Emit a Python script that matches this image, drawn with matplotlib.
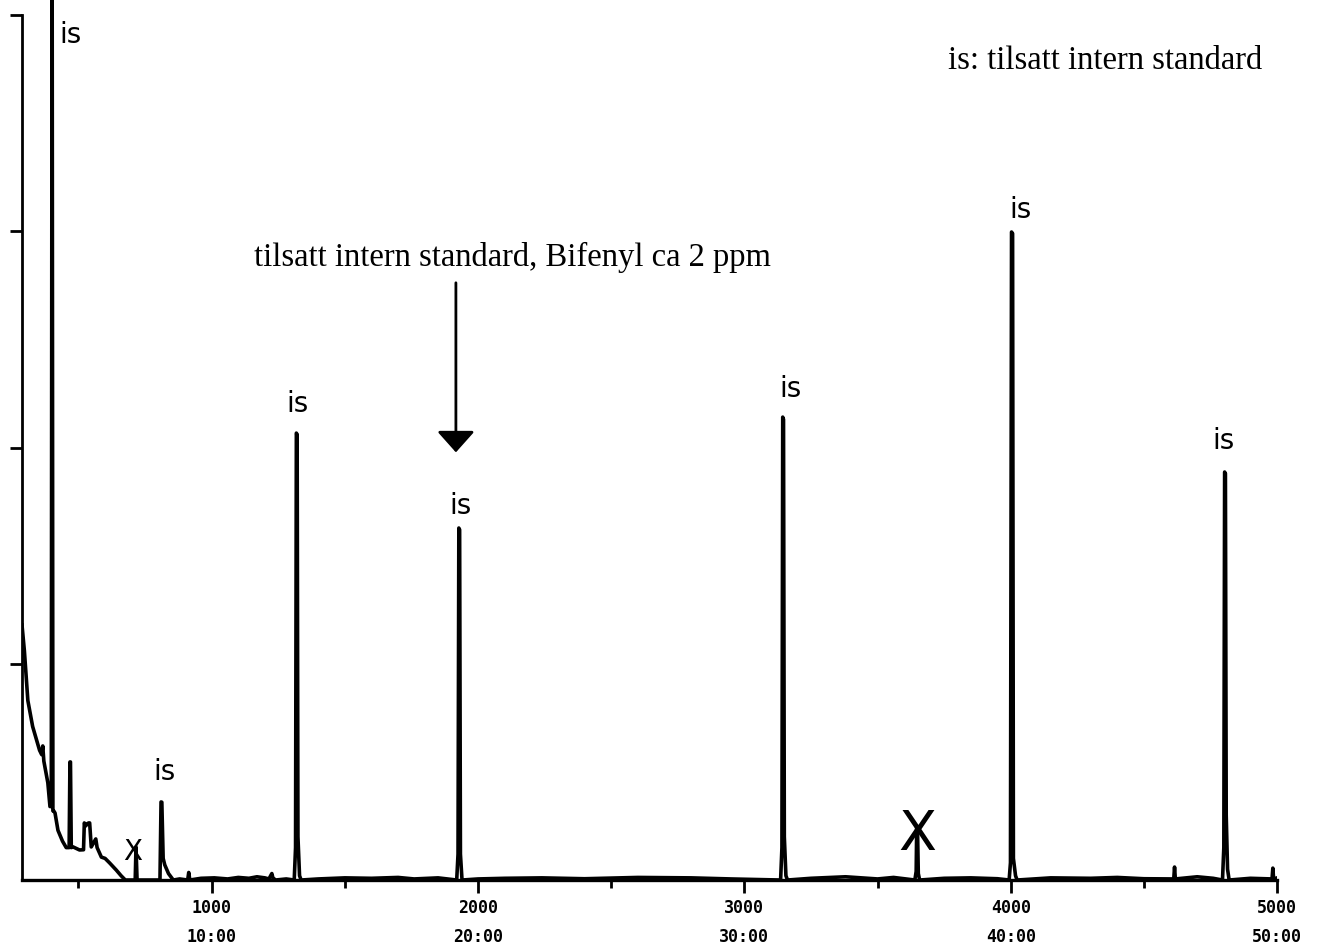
import matplotlib.pyplot as plt

# Chromatogram trace (retention in scans, signal in chart units)
rt = [288, 297, 310, 328, 354, 362, 366, 370, 385, 393, 398, 401, 404, 407, 412,
      423, 440, 454, 465, 468, 470, 473, 480, 504, 519, 522, 527, 533, 538, 542,
      548, 556, 565, 570, 586, 600, 617, 642, 660, 676, 700, 713, 716, 720, 740,
      780, 806, 810, 813, 818, 824, 838, 856, 880, 910, 914, 918, 960, 1010, 1060,
      1100, 1140, 1170, 1200, 1215, 1226, 1230, 1240, 1280,
      1310, 1315, 1318, 1321, 1324, 1330, 1336, 1400, 1500, 1600, 1700, 1760, 1850,
      1920, 1925, 1928, 1931, 1934, 1940, 2000, 2100, 2240, 2400, 2600, 2800, 2950,
      3136, 3141, 3144, 3147, 3150, 3156, 3162, 3250, 3380, 3500, 3560,
      3640, 3645, 3647, 3650, 3653, 3658, 3750, 3850, 3950,
      3994, 3999, 4003, 4007, 4010, 4018, 4024, 4150, 4300, 4400, 4500,
      4612, 4615, 4618, 4700, 4760,
      4795, 4800, 4803, 4806, 4809, 4814, 4820, 4900, 4981, 4984, 4987, 5000]
signal = [1.18, 1.06, 0.83, 0.71, 0.60, 0.58, 0.62, 0.55, 0.45, 0.34, 0.34, 4.6, 0.32, 0.32, 0.31,
          0.23, 0.18, 0.15, 0.15, 0.546, 0.546, 0.15, 0.153, 0.139, 0.14, 0.264, 0.25, 0.26, 0.264, 0.264,
          0.153, 0.17, 0.19, 0.15, 0.106, 0.10, 0.079, 0.046, 0.02, 0.0, 0.0, 0.0, 0.153, 0.0, 0.0,
          0.0, 0.0, 0.361, 0.36, 0.1, 0.07, 0.03, 0.0, 0.005, 0.0, 0.035, 0.0, 0.008, 0.01, 0.005,
          0.012, 0.008, 0.015, 0.01, 0.005, 0.03, 0.01, 0.0, 0.005,
          0.0, 0.15, 2.067, 2.06, 0.2, 0.02, 0.0, 0.005, 0.01, 0.008, 0.012, 0.005, 0.01,
          0.0, 0.12, 1.628, 1.62, 0.12, 0.0, 0.005, 0.008, 0.01, 0.006, 0.012, 0.01, 0.005,
          0.0, 0.15, 2.141, 2.13, 0.2, 0.02, 0.0, 0.008, 0.015, 0.005, 0.012,
          0.0, 0.04, 0.245, 0.24, 0.03, 0.0, 0.008, 0.01, 0.006,
          0.0, 0.08, 2.997, 2.99, 0.1, 0.02, 0.0, 0.01, 0.008, 0.012, 0.006,
          0.005, 0.06, 0.005, 0.015, 0.008,
          0.0, 0.15, 1.887, 1.88, 0.3, 0.05, 0.0, 0.008, 0.005, 0.055, 0.005, 0.01]

# internal standard ("is") labels and crossed-out peaks
is_x = [470, 1324, 1934, 3172, 4038, 4800, 824]
is_y = [3.91, 2.20, 1.73, 2.27, 3.10, 2.03, 0.50]
cross_x = [703, 3650]
cross_y = [0.13, 0.21]
cross_size = [20, 40]

major_ticks = [1000, 2000, 3000, 4000, 5000]
major_labels = ["1000\n10:00", "2000\n20:00", "3000\n30:00", "4000\n40:00", "5000\n50:00"]
minor_ticks = [500, 1500, 2500, 3500, 4500]

fig = plt.figure(figsize=(13.17, 9.52), dpi=100)
ax = fig.add_axes([0.0167, 0.0756, 0.9530, 0.9244])

ax.plot(rt, signal, color="black", lw=2.6, solid_joinstyle="round")

ax.set_xlim(288, 5000)
ax.set_ylim(0, 4.07)

for s in ["top", "right"]:
    ax.spines[s].set_visible(False)
ax.spines["left"].set_bounds(0, 4)
ax.spines["left"].set_linewidth(2)
ax.spines["bottom"].set_linewidth(2.4)

ax.set_yticks([1, 2, 3, 4])
ax.set_yticklabels([])
ax.tick_params(axis="y", direction="out", length=9, width=2)

ax.set_xticks(major_ticks)
ax.set_xticklabels(major_labels, family="DejaVu Sans Mono", fontweight="bold",
                   fontsize=12, linespacing=1.75)
ax.set_xticks(minor_ticks, minor=True)
ax.tick_params(axis="x", which="major", direction="out", length=9, width=2, pad=5)
ax.tick_params(axis="x", which="minor", direction="out", length=6, width=2)

# handwritten notes
for x, y in zip(is_x, is_y):
    ax.text(x, y, "is", fontsize=20, ha="center", va="center", family="DejaVu Sans")
for x, y, s in zip(cross_x, cross_y, cross_size):
    ax.text(x, y, "X", fontsize=s, ha="center", va="center", family="DejaVu Sans")

ax.text(4354, 3.75, "is: tilsatt intern standard", fontsize=23.5, ha="center",
        va="baseline", family="Liberation Serif")
ax.text(2128, 2.84, "tilsatt intern standard, Bifenyl ca 2 ppm", fontsize=23.5,
        ha="center", va="baseline", family="Liberation Serif")
ax.annotate("", xy=(1917, 1.965), xytext=(1917, 2.775),
            arrowprops=dict(arrowstyle="-|>,head_length=0.65,head_width=0.58",
                            mutation_scale=20, lw=2, color="black"))

fig.savefig("out.png", dpi=100)
